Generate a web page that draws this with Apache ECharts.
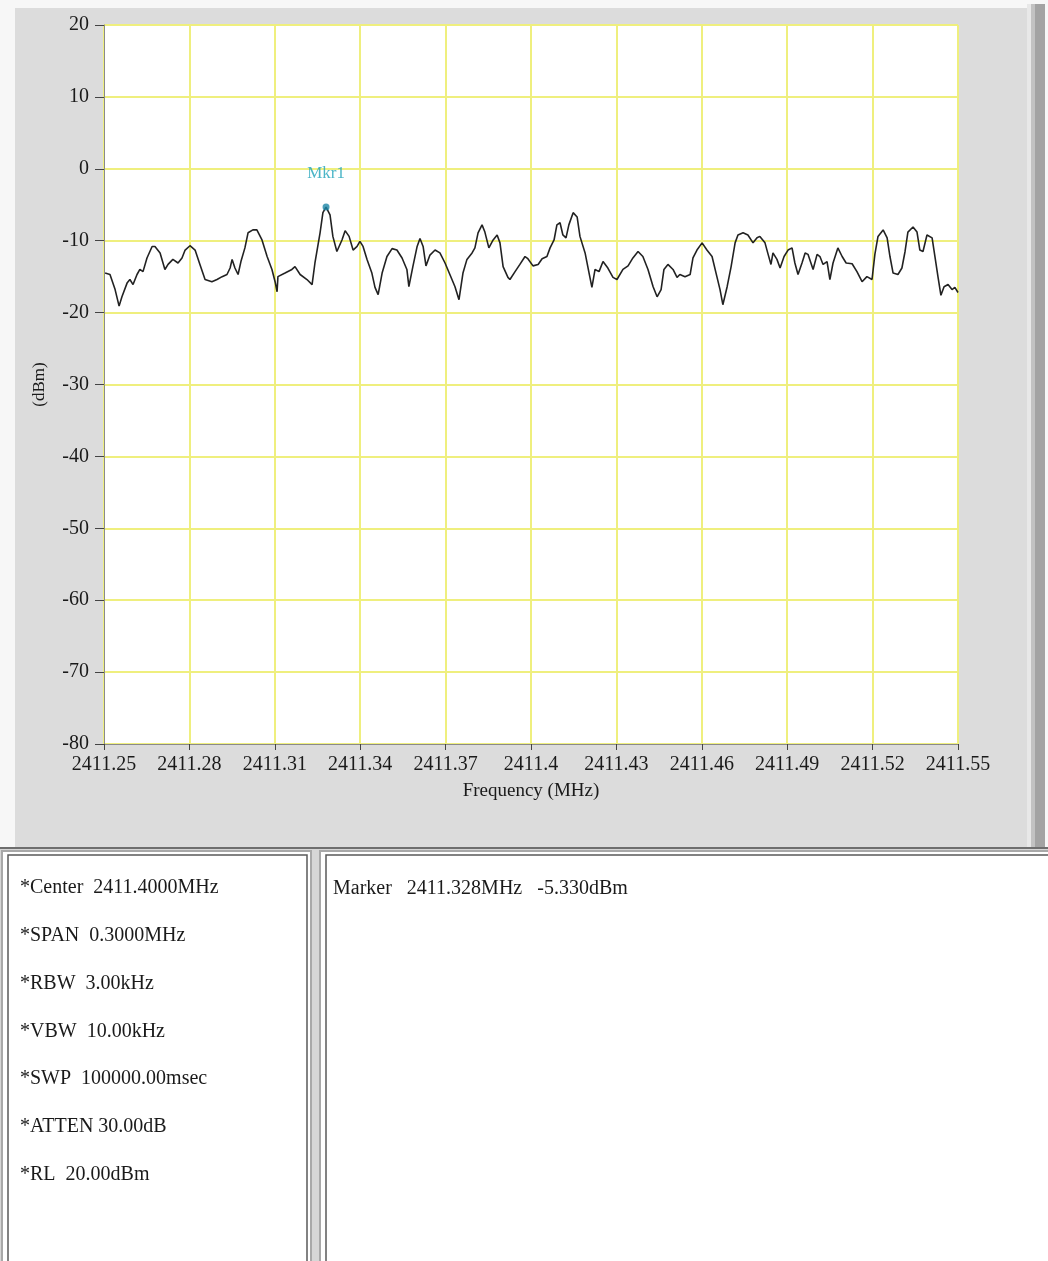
<!DOCTYPE html>
<html>
<head>
<meta charset="utf-8">
<script src="https://cdn.jsdelivr.net/npm/echarts@6/dist/echarts.min.js"></script>
<style>html,body{margin:0;padding:0;background:#f7f7f7;}#c{width:1048px;height:1261px;}</style>
</head>
<body>
<div id="c"></div>
<script>
const freqMHz = [
2411.2504,2411.2521,2411.2539,2411.2553,2411.2563,2411.2581,2411.2591,2411.2602,2411.2616,2411.2626,
2411.2637,2411.2651,2411.2669,2411.2679,2411.2697,2411.2714,2411.2725,2411.2742,2411.2760,2411.2774,
2411.2785,2411.2802,2411.2820,2411.2837,2411.2855,2411.2879,2411.2897,2411.2915,2411.2932,2411.2943,
2411.2950,2411.2960,2411.2971,2411.2981,2411.2995,2411.3006,2411.3023,2411.3037,2411.3055,2411.3073,
2411.3090,2411.3101,2411.3108,2411.3111,2411.3136,2411.3160,2411.3171,
2411.3189,2411.3213,2411.3231,2411.3241,2411.3259,2411.3269,2411.3280,2411.3294,2411.3304,2411.3318,
2411.3336,2411.3347,2411.3361,2411.3375,2411.3389,2411.3399,2411.3410,2411.3424,2411.3441,2411.3452,
2411.3463,2411.3477,2411.3494,2411.3512,2411.3529,2411.3547,2411.3564,2411.3571,2411.3585,2411.3600,
2411.3610,2411.3621,2411.3631,2411.3645,2411.3663,2411.3680,2411.3698,2411.3715,2411.3733,2411.3747,
2411.3761,2411.3775,2411.3793,2411.3803,2411.3814,2411.3828,2411.3838,2411.3852,2411.3867,2411.3881,
2411.3891,2411.3902,2411.3919,
2411.3926,2411.3944,2411.3961,2411.3979,2411.3989,2411.4007,2411.4025,2411.4039,2411.4056,2411.4067,
2411.4081,2411.4091,2411.4102,2411.4112,2411.4123,2411.4133,2411.4148,2411.4162,2411.4172,2411.4190,
2411.4204,2411.4214,2411.4225,2411.4239,2411.4253,2411.4270,2411.4288,2411.4302,2411.4323,2411.4341,
2411.4358,2411.4376,2411.4393,2411.4411,2411.4429,2411.4443,2411.4457,2411.4467,2411.4481,2411.4499,
2411.4513,2411.4523,2411.4541,2411.4559,2411.4569,2411.4583,2411.4601,2411.4618,2411.4636,2411.4653,
2411.4664,2411.4674,2411.4689,2411.4703,2411.4717,2411.4727,2411.4745,2411.4762,2411.4780,2411.4794,
2411.4804,2411.4822,2411.4833,2411.4843,2411.4850,2411.4864,2411.4875,2411.4889,2411.4903,2411.4917,
2411.4927,2411.4938,2411.4952,2411.4963,2411.4973,2411.4991,2411.5005,2411.5015,2411.5026,2411.5040,
2411.5050,2411.5061,2411.5078,2411.5093,2411.5107,2411.5128,2411.5145,2411.5163,2411.5180,2411.5198,
2411.5208,2411.5219,2411.5237,2411.5251,2411.5261,2411.5272,2411.5289,2411.5303,2411.5314,2411.5324,
2411.5342,2411.5356,2411.5366,2411.5377,2411.5391,2411.5409,2411.5419,2411.5430,2411.5440,2411.5451,
2411.5465,2411.5479,2411.5489,2411.5500
];
const levelDbm = [
-14.5,-14.7,-16.8,-19.1,-17.8,-15.9,-15.4,-16.1,-14.7,-14.0,
-14.3,-12.4,-10.8,-10.8,-11.7,-14.0,-13.3,-12.6,-13.1,-12.4,
-11.3,-10.7,-11.3,-13.3,-15.4,-15.7,-15.4,-15.0,-14.7,-13.8,
-12.6,-13.8,-14.7,-12.9,-11.0,-8.9,-8.5,-8.5,-9.9,-12.2,
-14.0,-15.7,-17.1,-15.0,-14.5,-14.0,-13.6,
-14.7,-15.4,-16.1,-13.1,-8.9,-6.1,-5.33,-6.4,-9.4,-11.5,
-9.9,-8.6,-9.4,-11.3,-10.8,-10.1,-10.8,-12.6,-14.5,-16.5,
-17.5,-14.5,-12.2,-11.1,-11.3,-12.4,-14.0,-16.4,-13.6,-10.8,
-9.7,-10.8,-13.5,-12.0,-11.3,-11.7,-13.1,-14.7,-16.4,-18.2,
-14.5,-12.6,-11.7,-11.0,-8.9,-7.8,-8.8,-11.0,-9.9,-9.2,
-10.3,-13.6,-15.1,
-15.4,-14.3,-13.3,-12.2,-12.5,-13.5,-13.3,-12.5,-12.2,-11.0,
-9.9,-7.8,-7.5,-9.2,-9.6,-7.8,-6.1,-6.7,-9.4,-11.7,
-14.5,-16.5,-14.0,-14.3,-12.9,-13.8,-15.1,-15.4,-14.0,-13.5,
-12.4,-11.5,-12.2,-14.0,-16.4,-17.8,-16.8,-14.0,-13.3,-14.0,
-15.1,-14.7,-15.0,-14.7,-12.4,-11.3,-10.3,-11.3,-12.2,-15.0,
-16.8,-18.9,-16.4,-13.6,-10.3,-9.2,-8.9,-9.2,-10.3,-9.6,
-9.4,-10.3,-11.9,-13.3,-11.7,-12.6,-13.8,-12.2,-11.3,-11.0,
-13.1,-14.7,-13.1,-11.7,-11.9,-14.0,-11.9,-12.2,-13.3,-12.9,
-15.4,-13.1,-11.0,-12.2,-13.1,-13.2,-14.3,-15.7,-15.0,-15.4,
-11.9,-9.4,-8.5,-9.6,-12.2,-14.5,-14.7,-13.8,-11.5,-8.8,
-8.1,-8.8,-11.3,-11.5,-9.2,-9.6,-12.2,-15.1,-17.6,-16.4,
-16.1,-16.8,-16.5,-17.2
];
const markerFreq = [2411.328];
const markerLevel = [-5.33];
const markerName = 'Mkr1';
const settingsLines = [
  '*Center  2411.4000MHz',
  '*SPAN  0.3000MHz',
  '*RBW  3.00kHz',
  '*VBW  10.00kHz',
  '*SWP  100000.00msec',
  '*ATTEN 30.00dB',
  '*RL  20.00dBm'
];
const markerLine = 'Marker   2411.328MHz   -5.330dBm';
const xTicks = {min: 2411.25, max: 2411.55, step: 0.03};
const yTicks = {min: -80, max: 20, step: 10};

const FONT = "'Liberation Serif', 'DejaVu Serif', serif";
const chart = echarts.init(document.getElementById('c'), null, {renderer: 'canvas'});

const graphics = [
  {type: 'rect', z: -100, shape: {x: 15, y: 8, width: 1012, height: 840}, style: {fill: '#dcdcdc'}},
  {type: 'rect', z: -99, shape: {x: 1027, y: 4, width: 4, height: 844}, style: {fill: '#e8e8e8'}},
  {type: 'rect', z: -99, shape: {x: 1031, y: 4, width: 4, height: 844}, style: {fill: '#c2c2c2'}},
  {type: 'rect', z: -99, shape: {x: 1035, y: 4, width: 10, height: 844}, style: {fill: '#a3a3a3'}},
  {type: 'rect', z: -99, shape: {x: 0, y: 848, width: 1048, height: 413}, style: {fill: '#d6d6d6'}},
  {type: 'rect', z: -98, shape: {x: 0, y: 847, width: 1048, height: 2}, style: {fill: '#6e6e6e'}},
  {type: 'rect', z: -97, shape: {x: 2, y: 851, width: 309, height: 420}, style: {fill: '#ffffff', stroke: '#a8a8a8', lineWidth: 2}},
  {type: 'rect', z: -96, shape: {x: 8, y: 855, width: 299, height: 420}, style: {fill: 'none', stroke: '#5a5a5a', lineWidth: 1.5}},
  {type: 'rect', z: -97, shape: {x: 320, y: 851, width: 740, height: 420}, style: {fill: '#ffffff', stroke: '#a8a8a8', lineWidth: 2}},
  {type: 'rect', z: -96, shape: {x: 326, y: 855, width: 740, height: 420}, style: {fill: 'none', stroke: '#5a5a5a', lineWidth: 1.5}}
];
settingsLines.forEach((t, i) => {
  graphics.push({type: 'text', z: 10, style: {text: t, x: 20, y: 888 + i * 47.8, verticalAlign: 'middle',
    fontFamily: FONT, fontSize: 20, fill: '#1a1a1a'}});
});
graphics.push({type: 'text', z: 10, style: {text: markerLine, x: 333, y: 889, verticalAlign: 'middle',
  fontFamily: FONT, fontSize: 20, fill: '#1a1a1a'}});

const fmtX = v => String(parseFloat(v.toFixed(2)));

chart.setOption({
  backgroundColor: '#f7f7f7',
  animation: false,
  graphic: graphics,
  grid: {left: 104, top: 25, width: 854, height: 719, show: true, backgroundColor: '#ffffff',
    borderColor: '#9a9a9a', borderWidth: 1, containLabel: false, outerBoundsMode: 'none'},
  xAxis: {
    type: 'value', min: xTicks.min, max: xTicks.max, interval: xTicks.step,
    name: 'Frequency (MHz)', nameLocation: 'middle', nameGap: 38,
    nameTextStyle: {fontFamily: FONT, fontSize: 19, color: '#1a1a1a'},
    axisLine: {show: true, onZero: false, lineStyle: {color: '#8a8a8a'}},
    axisTick: {show: true, length: 6, lineStyle: {color: '#444'}},
    axisLabel: {formatter: fmtX, fontFamily: FONT, fontSize: 20, color: '#1a1a1a', margin: 11},
    splitLine: {show: true, lineStyle: {color: '#efef7e', width: 2}}
  },
  yAxis: {
    type: 'value', min: yTicks.min, max: yTicks.max, interval: yTicks.step,
    name: '(dBm)', nameLocation: 'middle', nameGap: 56,
    nameTextStyle: {fontFamily: FONT, fontSize: 17, color: '#1a1a1a'},
    axisLine: {show: true, lineStyle: {color: '#8a8a8a'}},
    axisTick: {show: true, length: 9, lineStyle: {color: '#444'}},
    axisLabel: {fontFamily: FONT, fontSize: 20, color: '#1a1a1a', margin: 15},
    splitLine: {show: true, lineStyle: {color: '#efef7e', width: 2}}
  },
  series: [
    {type: 'line', data: freqMHz.map((f, i) => [f, levelDbm[i]]), showSymbol: false, smooth: false,
      lineStyle: {color: '#222222', width: 1.6}, z: 3},
    {type: 'scatter', data: markerFreq.map((f, i) => [f, markerLevel[i]]), symbolSize: 7, z: 5,
      itemStyle: {color: '#1d86a6'},
      label: {show: true, position: 'top', distance: 22, formatter: markerName,
        fontFamily: FONT, fontSize: 17, color: '#1ea2b9'}}
  ]
});
</script>
</body>
</html>
